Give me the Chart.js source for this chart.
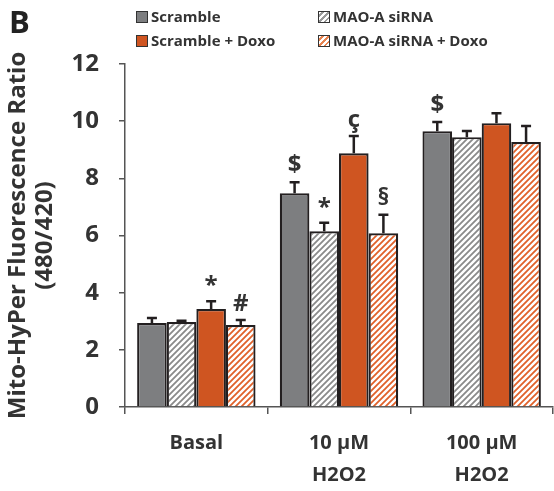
<!DOCTYPE html>
<html>
<head>
<meta charset="utf-8">
<script src="https://cdn.jsdelivr.net/npm/chart.js@4.4.1/dist/chart.umd.min.js"></script>
<style>
  html, body { margin: 0; padding: 0; background: #fff; }
  #wrap { position: relative; width: 554px; height: 491px; font-family: "Open Sans", sans-serif; color: #333; }
  #panel { position: absolute; left: 9px; top: 0px; font-size: 31px; font-weight: bold; color: #222; }
  .lg { position: absolute; font-size: 15px; font-weight: bold; color: #333; white-space: nowrap; line-height: 18px; }
  .sw { display: inline-block; width: 10px; height: 10px; border: 1.5px solid #333; vertical-align: -1px; margin-right: 3px; }
</style>
</head>
<body>
<div id="wrap">
  <canvas id="myChart" width="554" height="491"></canvas>
  <div id="panel">B</div>
  <div class="lg" style="left:136px; top:7px;"><span class="sw" style="background:#7d7e80"></span>Scramble</div>
  <div class="lg" style="left:318px; top:7px;"><span class="sw" style="background:repeating-linear-gradient(135deg,#fff 0 2px,#999 2px 4px)"></span>MAO-A siRNA</div>
  <div class="lg" style="left:136px; top:31px;"><span class="sw" style="background:#cf5521"></span>Scramble + Doxo</div>
  <div class="lg" style="left:318px; top:31px;"><span class="sw" style="background:repeating-linear-gradient(135deg,#fff 0 2px,#e8834f 2px 4px)"></span>MAO-A siRNA + Doxo</div>
</div>
<script>
const CATEGORIES = ["Basal", ["10 µM", "H2O2"], ["100 µM", "H2O2"]];
const SERIES_NAMES = ["Scramble", "MAO-A siRNA", "Scramble + Doxo", "MAO-A siRNA + Doxo"];

const SCRAMBLE = [2.94, 7.48, 9.65];
const SCRAMBLE_ERR = [0.17, 0.38, 0.32];
const SCRAMBLE_MARKS = ["", "$", "$"];

const MAOA = [2.97, 6.15, 9.44];
const MAOA_ERR = [0.05, 0.3, 0.22];
const MAOA_MARKS = ["", "*", ""];

const SCR_DOXO = [3.43, 8.88, 9.93];
const SCR_DOXO_ERR = [0.27, 0.6, 0.35];
const SCR_DOXO_MARKS = ["*", "ç", ""];

const MAOA_DOXO = [2.87, 6.08, 9.27];
const MAOA_DOXO_ERR = [0.17, 0.65, 0.56];
const MAOA_DOXO_MARKS = ["#", "§", ""];

const Y_TICKS = [0, 2, 4, 6, 8, 10, 12];

const FONT = "'Open Sans', sans-serif";
const INK = "#231f20";

// how far above the error cap each mark's baseline sits
const MARK_LIFT = { "*": 8, "$": 10, "ç": 9, "§": 10, "#": 9 };

// diagonal hatch pattern
function hatch(color) {
    const c = document.createElement("canvas");
    c.width = 6;
    c.height = 6;
    const g = c.getContext("2d");
    g.fillStyle = "#fff";
    g.fillRect(0, 0, 6, 6);
    g.strokeStyle = color;
    g.lineWidth = 1.8;
    g.beginPath();
    g.moveTo(-1, 7); g.lineTo(7, -1);
    g.moveTo(-4, 4); g.lineTo(4, -4);
    g.moveTo(2, 10); g.lineTo(10, 2);
    g.stroke();
    return g.createPattern(c, "repeat");
}

// error bars + significance marks
const errorBars = {
    id: "errorBars",
    afterDatasetsDraw(chart) {
        const ctx = chart.ctx;
        const y = chart.scales.y;
        chart.data.datasets.forEach((ds, i) => {
            const meta = chart.getDatasetMeta(i);
            meta.data.forEach((bar, j) => {
                const top = y.getPixelForValue(ds.data[j] + ds.err[j]);
                ctx.save();
                ctx.strokeStyle = INK;
                ctx.lineWidth = 2.5;
                ctx.beginPath();
                ctx.moveTo(bar.x, bar.y);
                ctx.lineTo(bar.x, top);
                ctx.moveTo(bar.x - 5, top);
                ctx.lineTo(bar.x + 5, top);
                ctx.stroke();
                const m = ds.marks[j];
                if (m) {
                    ctx.fillStyle = "#333";
                    ctx.font = "bold 24px " + FONT;
                    ctx.textAlign = "center";
                    ctx.textBaseline = "alphabetic";
                    ctx.fillText(m, bar.x, top - MARK_LIFT[m]);
                }
                ctx.restore();
            });
        });
    },
};

function makeDataset(label, data, err, marks, fill) {
    return {
        label: label,
        data: data,
        err: err,
        marks: marks,
        backgroundColor: fill,
        borderColor: INK,
        borderWidth: 2.2,
        barPercentage: 1,
        categoryPercentage: 0.83,
    };
}

const data1 = {
    labels: CATEGORIES,
    datasets: [
        makeDataset(SERIES_NAMES[0], SCRAMBLE, SCRAMBLE_ERR, SCRAMBLE_MARKS, "#7d7e80"),
        makeDataset(SERIES_NAMES[1], MAOA, MAOA_ERR, MAOA_MARKS, hatch("#8a8a8a")),
        makeDataset(SERIES_NAMES[2], SCR_DOXO, SCR_DOXO_ERR, SCR_DOXO_MARKS, "#cf5521"),
        makeDataset(SERIES_NAMES[3], MAOA_DOXO, MAOA_DOXO_ERR, MAOA_DOXO_MARKS, hatch("#e0612a")),
    ],
};

const config1 = {
    type: "bar",
    data: data1,
    plugins: [errorBars],
    options: {
        responsive: false,
        animation: false,
        layout: { padding: { top: 64, left: 4, right: 1, bottom: 0 } },
        plugins: {
            legend: { display: false },
            tooltip: { enabled: false },
        },
        scales: {
            x: {
                offset: true,
                grid: {
                    offset: true,
                    drawOnChartArea: false,
                    drawTicks: true,
                    tickLength: 7,
                    color: "#555",
                    lineWidth: 1.5,
                },
                border: { color: "#555", width: 1.5 },
                ticks: {
                    color: "#333",
                    font: { family: FONT, size: 20, weight: "bold", lineHeight: 1.6 },
                    padding: 13,
                    maxRotation: 0,
                },
                afterFit(scale) { scale.height = 84; },
            },
            y: {
                min: 0,
                max: 12,
                afterBuildTicks(scale) {
                    scale.ticks = Y_TICKS.map((v) => ({ value: v }));
                },
                grid: {
                    drawOnChartArea: false,
                    drawTicks: true,
                    tickLength: 6,
                    color: "#555",
                    lineWidth: 1.5,
                },
                border: { color: "#555", width: 1.5 },
                ticks: {
                    color: "#333",
                    font: { family: FONT, size: 24, weight: "bold" },
                    padding: 20,
                },
                title: {
                    display: true,
                    text: ["Mito-HyPer Fluorescence Ratio", "(480/420)"],
                    color: "#333",
                    font: { family: FONT, size: 24, weight: "bold", lineHeight: 1.15 },
                    padding: 0,
                },
                afterFit(scale) { scale.width = 121; },
            },
        },
    },
};

var ctx = document.getElementById("myChart").getContext("2d");
var myChart = new Chart(ctx, config1);
</script>
</body>
</html>
